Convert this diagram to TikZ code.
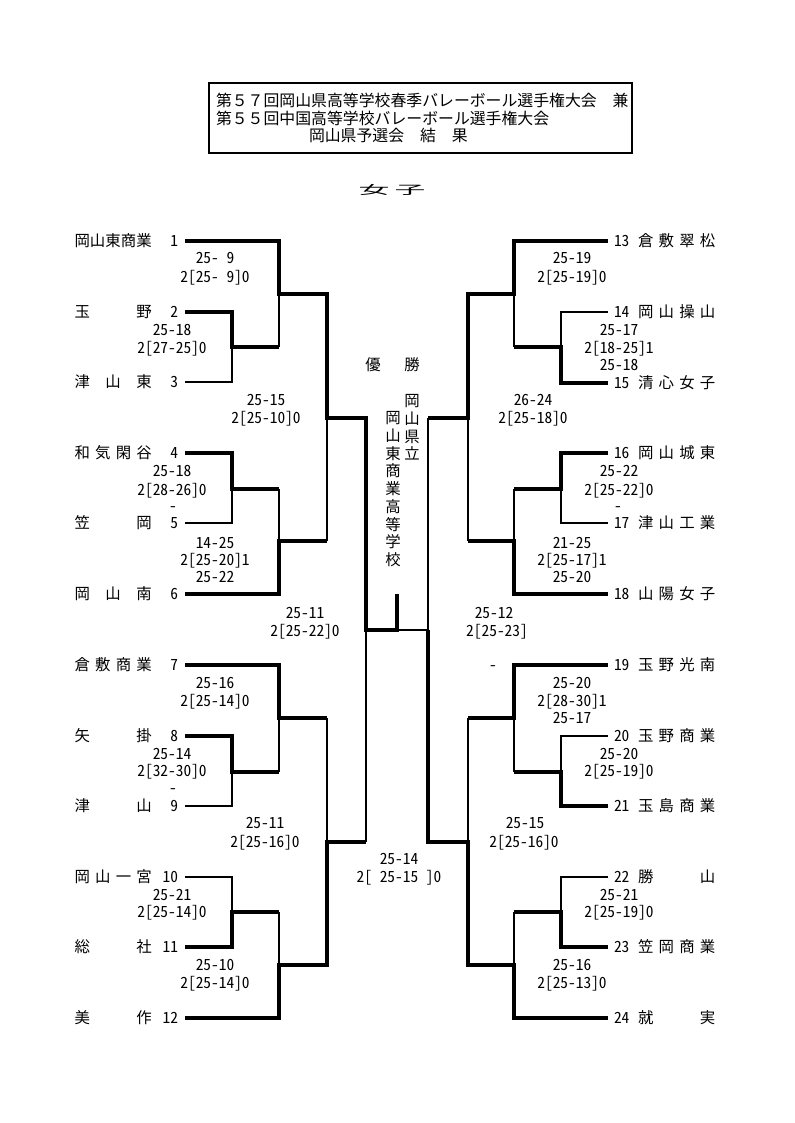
\documentclass[tikz,border=0pt]{standalone}
\usepackage{fontspec}
\setmainfont{Noto Sans CJK JP}
\newfontfamily\jp{Noto Sans CJK JP}
\newfontfamily\jpn{Noto Sans CJK JP}[RawFeature=+hwid]
\newcommand\nmfont{\jp\fontsize{11.55}{13}\selectfont}
\newcommand\scfont{\jpn\fontsize{11.55}{13}\selectfont\spaceskip=0.5em plus 0pt minus 0pt\relax}
\newcommand\ttfont{\jp\fontsize{11.9}{14}\selectfont}
\newcommand\tname[4]{\node[nm,anchor=west] (#1) at (#2,#3) {\makebox[58pt][s]{#4}};}
\newcommand\scr[4]{\node[sc] (#1) at (#2,#3) {#4};}
\begin{document}
\begin{tikzpicture}[x=0.75pt,y=-0.75pt,
  tk/.style={line width=2.5pt,line join=miter},
  tn/.style={line width=0.9pt},
  basebox/.style={inner sep=0pt,outer sep=0pt,text height=10.2pt,text depth=1.4pt},
  nm/.style={basebox,font={\nmfont}},
  sc/.style={basebox,font={\scfont}},
  tt/.style={basebox,font={\ttfont},anchor=west}]
\fill[white] (0,0) rectangle (794,1123);
\useasboundingbox (0,0) rectangle (794,1123);
% title
\draw[tn] (209,83) rectangle (632,153);
\node[tt] (t1) at (216,101) {第５７回岡山県高等学校春季バレーボール選手権大会　兼};
\node[tt] (t2) at (216,119) {第５５回中国高等学校バレーボール選手権大会};
\node[tt] (t3) at (309,135.5) {岡山県予選会　結　果};
\node[inner sep=0pt,font={\nmfont}] (g1) at (374,190) {\scalebox{2.0}[0.78]{女}};
\node[inner sep=0pt,font={\nmfont}] (g2) at (410,190) {\scalebox{2.0}[0.78]{子}};
% thin lines left
\draw[tn] (185,382) -- (232,382) -- (232,347);
\draw[tn] (279,294) -- (279,347);
\draw[tn] (185,523) -- (232,523) -- (232,489);
\draw[tn] (279,489) -- (279,541);
\draw[tn] (327,418) -- (327,541);
\draw[tn] (279,718) -- (279,772);
\draw[tn] (185,806) -- (232,806) -- (232,772);
\draw[tn] (327,718) -- (327,842);
\draw[tn] (185,877) -- (232,877) -- (232,912);
\draw[tn] (279,912) -- (279,965);
\draw[tn] (366,842) -- (366,630);
\draw[tn] (397,630) -- (428,630);
% thin lines right
\draw[tn] (608,312) -- (561,312) -- (561,347);
\draw[tn] (514,294) -- (514,347);
\draw[tn] (608,523) -- (561,523) -- (561,489);
\draw[tn] (514,489) -- (514,541);
\draw[tn] (468,418) -- (468,541);
\draw[tn] (428,418) -- (428,630);
\draw[tn] (608,736) -- (561,736) -- (561,772);
\draw[tn] (514,718) -- (514,772);
\draw[tn] (468,718) -- (468,842);
\draw[tn] (608,877) -- (561,877) -- (561,912);
\draw[tn] (514,912) -- (514,965);
% thick lines left
\draw[tk] (185,241) -- (279,241) -- (279,294) -- (327,294) -- (327,418) -- (366,418) -- (366,630) -- (397,630) -- (397,594);
\draw[tk] (185,312) -- (232,312) -- (232,347) -- (279,347);
\draw[tk] (185,453) -- (232,453) -- (232,489) -- (279,489);
\draw[tk] (185,594) -- (279,594) -- (279,541) -- (327,541);
\draw[tk] (185,665) -- (279,665) -- (279,718) -- (327,718);
\draw[tk] (185,736) -- (232,736) -- (232,772) -- (279,772);
\draw[tk] (185,947) -- (232,947) -- (232,912) -- (279,912);
\draw[tk] (185,1018) -- (279,1018) -- (279,965) -- (327,965) -- (327,842) -- (366,842);
% thick lines right
\draw[tk] (608,241) -- (514,241) -- (514,294) -- (468,294) -- (468,418) -- (428,418);
\draw[tk] (608,383) -- (561,383) -- (561,347) -- (514,347);
\draw[tk] (608,453) -- (561,453) -- (561,489) -- (514,489);
\draw[tk] (608,594) -- (514,594) -- (514,541) -- (468,541);
\draw[tk] (608,665) -- (514,665) -- (514,718) -- (468,718);
\draw[tk] (608,806) -- (561,806) -- (561,772) -- (514,772);
\draw[tk] (608,947) -- (561,947) -- (561,912) -- (514,912);
\draw[tk] (608,1018) -- (514,1018) -- (514,965) -- (468,965) -- (468,842) -- (428,842) -- (428,630);
% left teams
\tname{n1}{74.5}{241}{岡\hfill 山\hfill 東\hfill 商\hfill 業}
\tname{n2}{74.5}{312}{玉\hfill 野}
\tname{n3}{74.5}{382}{津\hfill 山\hfill 東}
\tname{n4}{74.5}{453}{和\hfill 気\hfill 閑\hfill 谷}
\tname{n5}{74.5}{523}{笠\hfill 岡}
\tname{n6}{74.5}{594}{岡\hfill 山\hfill 南}
\tname{n7}{74.5}{665}{倉\hfill 敷\hfill 商\hfill 業}
\tname{n8}{74.5}{736}{矢\hfill 掛}
\tname{n9}{74.5}{806}{津\hfill 山}
\tname{n10}{74.5}{877}{岡\hfill 山\hfill 一\hfill 宮}
\tname{n11}{74.5}{947}{総\hfill 社}
\tname{n12}{74.5}{1018}{美\hfill 作}
\node[sc,anchor=east] (k1) at (178,241) {1};
\node[sc,anchor=east] (k2) at (178,312) {2};
\node[sc,anchor=east] (k3) at (178,382) {3};
\node[sc,anchor=east] (k4) at (178,453) {4};
\node[sc,anchor=east] (k5) at (178,523) {5};
\node[sc,anchor=east] (k6) at (178,594) {6};
\node[sc,anchor=east] (k7) at (178,665) {7};
\node[sc,anchor=east] (k8) at (178,736) {8};
\node[sc,anchor=east] (k9) at (178,806) {9};
\node[sc,anchor=east] (k10) at (178,877) {10};
\node[sc,anchor=east] (k11) at (178,947) {11};
\node[sc,anchor=east] (k12) at (178,1018) {12};
% right teams
\node[sc,anchor=west] (k13) at (614,241) {13};
\node[sc,anchor=west] (k14) at (614,312) {14};
\node[sc,anchor=west] (k15) at (614,383) {15};
\node[sc,anchor=west] (k16) at (614,453) {16};
\node[sc,anchor=west] (k17) at (614,523) {17};
\node[sc,anchor=west] (k18) at (614,594) {18};
\node[sc,anchor=west] (k19) at (614,665) {19};
\node[sc,anchor=west] (k20) at (614,736) {20};
\node[sc,anchor=west] (k21) at (614,806) {21};
\node[sc,anchor=west] (k22) at (614,877) {22};
\node[sc,anchor=west] (k23) at (614,947) {23};
\node[sc,anchor=west] (k24) at (614,1018) {24};
\tname{n13}{638}{241}{倉\hfill 敷\hfill 翠\hfill 松}
\tname{n14}{638}{312}{岡\hfill 山\hfill 操\hfill 山}
\tname{n15}{638}{383}{清\hfill 心\hfill 女\hfill 子}
\tname{n16}{638}{453}{岡\hfill 山\hfill 城\hfill 東}
\tname{n17}{638}{523}{津\hfill 山\hfill 工\hfill 業}
\tname{n18}{638}{594}{山\hfill 陽\hfill 女\hfill 子}
\tname{n19}{638}{665}{玉\hfill 野\hfill 光\hfill 南}
\tname{n20}{638}{736}{玉\hfill 野\hfill 商\hfill 業}
\tname{n21}{638}{806}{玉\hfill 島\hfill 商\hfill 業}
\tname{n22}{638}{877}{勝\hfill 山}
\tname{n23}{638}{947}{笠\hfill 岡\hfill 商\hfill 業}
\tname{n24}{638}{1018}{就\hfill 実}
% champion
\node[nm] (w1) at (373,365) {優};
\node[nm] (w2) at (412,365) {勝};
\foreach \c [count=\i] in {岡,山,県,立}
  \node[nm] (cr\i) at (412,{401+17.7*(\i-1)}) {\c};
\foreach \c [count=\i] in {岡,山,東,商,業,高,等,学,校}
  \node[nm] (cl\i) at (393,{418+17.7*(\i-1)}) {\c};
% scores left
\scr{a1a}{215}{258}{25- 9}
\scr{a1b}{215}{277}{2[25- 9]0}
\scr{a2a}{172}{330}{25-18}
\scr{a2b}{172}{348}{2[27-25]0}
\scr{a3a}{266}{400}{25-15}
\scr{a3b}{266}{418}{2[25-10]0}
\scr{a4a}{172}{471}{25-18}
\scr{a4b}{172}{490}{2[28-26]0}
\scr{a4c}{173}{506}{-}
\scr{a5a}{215}{543}{14-25}
\scr{a5b}{215}{560}{2[25-20]1}
\scr{a5c}{215}{577}{25-22}
\scr{a6a}{305}{613}{25-11}
\scr{a6b}{305}{631}{2[25-22]0}
\scr{a7a}{215}{683}{25-16}
\scr{a7b}{215}{701}{2[25-14]0}
\scr{a8a}{172}{754}{25-14}
\scr{a8b}{172}{771}{2[32-30]0}
\scr{a8c}{173}{788}{-}
\scr{a9a}{265}{823}{25-11}
\scr{a9b}{265}{842}{2[25-16]0}
\scr{a10a}{172}{895}{25-21}
\scr{a10b}{172}{912}{2[25-14]0}
\scr{a11a}{215}{965}{25-10}
\scr{a11b}{215}{983}{2[25-14]0}
\scr{fa}{399}{859}{25-14}
\scr{fb}{399}{877}{2[ 25-15 ]0}
% scores right
\scr{b1a}{572}{258}{25-19}
\scr{b1b}{572}{277}{2[25-19]0}
\scr{b2a}{619}{330}{25-17}
\scr{b2b}{619}{348}{2[18-25]1}
\scr{b2c}{619}{365}{25-18}
\scr{b3a}{533}{400}{26-24}
\scr{b3b}{533}{418}{2[25-18]0}
\scr{b4a}{619}{471}{25-22}
\scr{b4b}{619}{490}{2[25-22]0}
\scr{b4c}{618}{506}{-}
\scr{b5a}{572}{543}{21-25}
\scr{b5b}{572}{560}{2[25-17]1}
\scr{b5c}{572}{577}{25-20}
\scr{b6a}{494}{613}{25-12}
\scr{b6b}{497}{631}{2[25-23]}
\scr{b6c}{493}{665}{-}
\scr{b7a}{572}{683}{25-20}
\scr{b7b}{572}{701}{2[28-30]1}
\scr{b7c}{572}{718}{25-17}
\scr{b8a}{619}{754}{25-20}
\scr{b8b}{619}{771}{2[25-19]0}
\scr{b9a}{525}{823}{25-15}
\scr{b9b}{524}{842}{2[25-16]0}
\scr{b10a}{619}{895}{25-21}
\scr{b10b}{619}{912}{2[25-19]0}
\scr{b11a}{572}{965}{25-16}
\scr{b11b}{572}{983}{2[25-13]0}
\end{tikzpicture}
\end{document}
